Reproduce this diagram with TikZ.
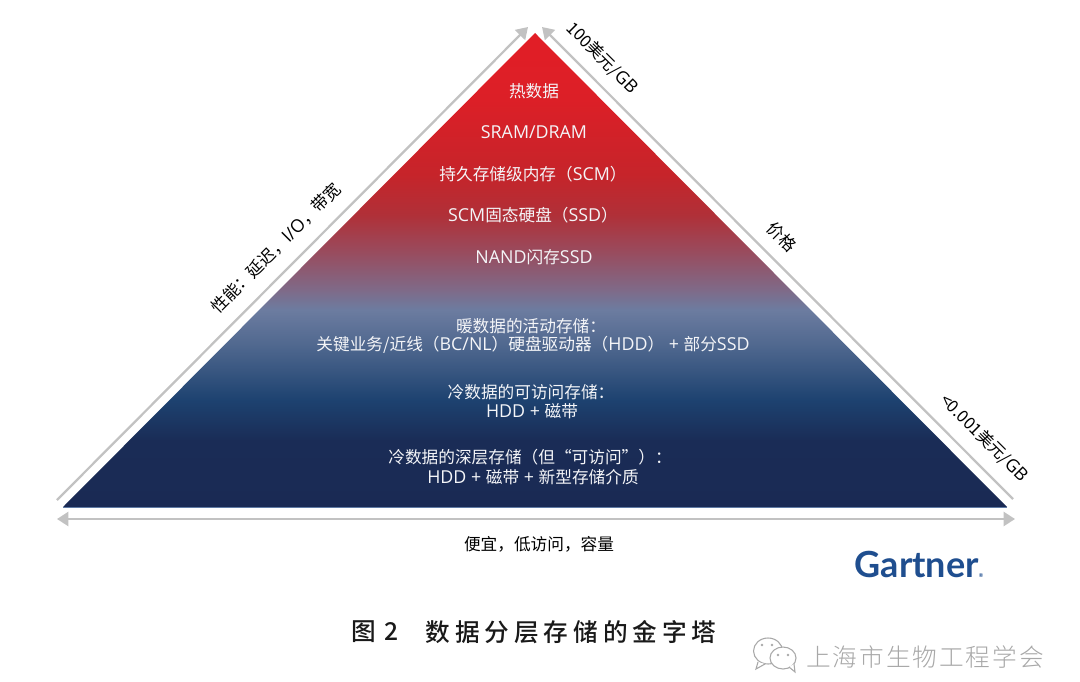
\documentclass[tikz,border=0pt]{standalone}
\usepackage{fontspec}
\setmainfont{Noto Sans CJK SC}
\newfontfamily\lat[Scale=1.07]{Open Sans}
\newfontfamily\logofont{Lato}
\newfontfamily\ttlfont[LetterSpace=20]{Noto Sans CJK SC Medium}
\newfontfamily\wmfont[LetterSpace=8]{Noto Sans CJK SC Light}
\newcommand{\La}[1]{{\lat #1}}
\usetikzlibrary{arrows.meta}
\definecolor{axisgrey}{HTML}{C2C2C2}
\definecolor{pyrtext}{HTML}{F4F5F8}
\definecolor{gartnerblue}{HTML}{1F4E8F}
\definecolor{wmgrey}{HTML}{A8A8A8}
\definecolor{baseline}{HTML}{5F7BA5}
\definecolor{ga}{HTML}{1A2A54}
\definecolor{gb}{HTML}{1A2C56}
\definecolor{gc}{HTML}{1D4270}
\definecolor{gd}{HTML}{50688F}
\definecolor{ge}{HTML}{6C7CA0}
\definecolor{gf}{HTML}{7F6A88}
\definecolor{gg}{HTML}{9A4A5C}
\definecolor{gh}{HTML}{B03038}
\definecolor{gi}{HTML}{C6242A}
\definecolor{gk}{HTML}{DC1F27}
\definecolor{gj}{HTML}{E21E26}
\pgfdeclareverticalshading{pyramidfade}{100bp}{
color(0bp)=(ga);
color(25bp)=(ga);
color(32bp)=(gb);
color(36.3bp)=(gc);
color(42.1bp)=(gd);
color(45.8bp)=(ge);
color(47.9bp)=(gf);
color(52.1bp)=(gg);
color(55.8bp)=(gh);
color(60.1bp)=(gi);
color(68bp)=(gk);
color(75bp)=(gj);
color(100bp)=(gj)}
\tikzset{
  axisline/.style={draw=axisgrey,line width=1.7pt,-{Triangle[length=8.5pt,width=10.5pt]}},
  pyrlabel/.style={text=pyrtext,font=\fontsize{12.5pt}{15pt}\selectfont,align=center,inner sep=0pt},
  sidelabel/.style={text=black,font=\fontsize{12.5pt}{15pt}\selectfont,align=center,inner sep=0pt},
}
\begin{document}
\begin{tikzpicture}[x=0.75pt,y=-0.75pt]
\useasboundingbox (0,0) rectangle (1080,681);
\coordinate (apex) at (535,33);
\coordinate (bl) at (63,507);
\coordinate (br) at (1007,507);
\shade[shading=pyramidfade] (apex) -- (br) -- (bl) -- cycle;
\draw[draw=baseline,line width=0.7pt] (bl) -- (br);
% axes
\coordinate (lstart) at (57,500);
\coordinate (ltip) at (528,27);
\coordinate (rstart) at (1013,499);
\coordinate (rtip) at (542,27);
\coordinate (bstart) at (57,519);
\coordinate (bend) at (1015,519);
\draw[axisline] (lstart) -- (ltip);
\draw[axisline] (rstart) -- (rtip);
\draw[axisline,{Triangle[length=8.5pt,width=10.5pt]}-{Triangle[length=8.5pt,width=10.5pt]}] (bstart) -- (bend);
% pyramid labels
\node[pyrlabel] (t1) at (534,91) {热数据};
\node[pyrlabel] (t2) at (534,132) {\La{SRAM/DRAM}};
\node[pyrlabel] (t3) at (533,174) {持久存储级内存（\La{SCM}）};
\node[pyrlabel] (t4) at (533,215) {\La{SCM}固态硬盘（\La{SSD}）};
\node[pyrlabel] (t5) at (534,257) {\La{NAND}闪存\La{SSD}};
\node[pyrlabel] (t6a) at (531,326) {暖数据的活动存储：};
\node[pyrlabel] (t6b) at (533,345) {关键业务/近线（\La{BC/NL}）硬盘驱动器（\La{HDD}）\La{ + }部分\La{SSD}};
\node[pyrlabel] (t7a) at (531,392) {冷数据的可访问存储：};
\node[pyrlabel] (t7b) at (532,411) {\La{HDD + }磁带};
\node[pyrlabel] (t8a) at (530,457) {冷数据的深层存储（但“可访问”）：};
\node[pyrlabel] (t8b) at (533,477) {\La{HDD + }磁带\La{ + }新型存储介质};
% side labels
\node[sidelabel,rotate=45] (s1) at (276,248) {性能：延迟，\La{I/O}，带宽};
\node[sidelabel,rotate=-45] (s2) at (602,58) {100美元/\La{GB}};
\node[sidelabel,rotate=-45] (s3) at (782,237) {价格};
\node[sidelabel,rotate=-45] (s4) at (984,438) {<0.001美元/\La{GB}};
\node[sidelabel] (s5) at (539,544) {便宜，低访问，容量};
% logo
\node[inner sep=0pt,text=gartnerblue,font={\logofont\bfseries\fontsize{27pt}{30pt}\selectfont}] (logo) at (919,564) {Gartner\raisebox{0pt}{\fontsize{4pt}{4pt}\selectfont ®}};
% caption
\node[inner sep=0pt,text=black!90,font={\fontsize{18.5pt}{20pt}\selectfont}] (capA) at (375,632) {\ttlfont 图\,\,2};
\node[inner sep=0pt,text=black!90,font={\fontsize{18.5pt}{20pt}\selectfont}] (capB) at (571,632) {\ttlfont 数据分层存储的金字塔};
% watermark
\node[inner sep=0pt,text=wmgrey,font={\fontsize{18.5pt}{20pt}\selectfont}] (wm) at (925,657) {\wmfont 上海市生物工程学会};
\draw[wmgrey,line width=0.8pt,fill=white] (768,651) ellipse [x radius=14.5,y radius=13];
\draw[wmgrey,line width=0.8pt,fill=white] (758,662) -- (756,669) -- (765,664);
\draw[wmgrey,line width=0.8pt,fill=white] (783,658) ellipse [x radius=13,y radius=11];
\draw[wmgrey,line width=0.8pt,fill=white] (789,667) -- (795,672) -- (794,664);
\fill[wmgrey] (762,645) circle [radius=1.4] (772,645) circle [radius=1.4] (778,655) circle [radius=1.3] (788,655) circle [radius=1.3];
\end{tikzpicture}
\end{document}
